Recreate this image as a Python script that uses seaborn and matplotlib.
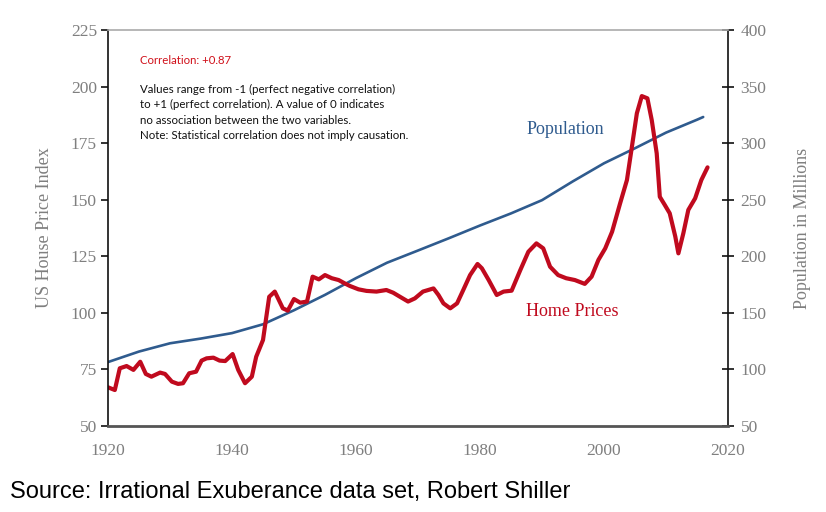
import matplotlib
matplotlib.use("Agg")
import matplotlib.pyplot as plt
import seaborn as sns
import pandas as pd

# ---- data ----
price_years = [1920.0, 1921.1, 1921.9, 1923.0, 1924.1, 1925.2, 1926.1, 1927.0, 1928.4, 1929.2,
               1930.3, 1931.3, 1932.1, 1933.1, 1934.2, 1935.1, 1935.9, 1937.0, 1938.0, 1938.9,
               1940.1, 1941.0, 1942.1, 1943.2, 1943.9, 1945.0, 1946.0, 1946.9, 1948.2, 1949.0,
               1950.0, 1951.0, 1952.1, 1953.0, 1954.0, 1955.0, 1956.1, 1957.2, 1958.2, 1959.0,
               1960.4, 1961.7, 1963.3, 1964.9, 1966.0, 1967.1, 1968.4, 1969.5, 1970.8, 1972.5,
               1973.3, 1974.1, 1975.2, 1976.3, 1977.3, 1978.4, 1979.6, 1980.3, 1981.4, 1982.7,
               1983.8, 1985.1, 1986.5, 1987.8, 1989.1, 1990.2, 1991.3, 1992.6, 1993.9, 1995.3,
               1996.9, 1998.0, 1999.1, 2000.2, 2001.3, 2002.6, 2003.7, 2004.5, 2005.3, 2006.1,
               2007.0, 2007.7, 2008.5, 2009.0, 2009.8, 2010.6, 2011.5, 2012.0, 2012.8, 2013.6,
               2014.7, 2015.7, 2016.7]
price_index = [67.1, 65.9, 75.5, 76.5, 74.8, 78.4, 73.0, 71.8, 73.6, 73.0,
               69.6, 68.6, 68.9, 73.3, 74.0, 78.9, 79.9, 80.2, 78.9, 78.7,
               81.8, 74.8, 68.9, 71.8, 80.6, 88.0, 107.1, 109.4, 102.0, 101.0,
               106.1, 104.5, 105.0, 116.0, 114.8, 116.7, 115.3, 114.5, 113.0, 111.9,
               110.4, 109.7, 109.4, 110.1, 108.9, 107.1, 105.0, 106.4, 109.4, 110.8,
               107.9, 104.2, 102.0, 104.2, 110.1, 116.7, 121.6, 119.7, 114.5, 107.9,
               109.4, 109.8, 118.9, 127.0, 130.7, 128.5, 120.4, 116.7, 115.3, 114.5,
               112.8, 116.0, 123.4, 128.5, 135.8, 148.4, 158.7, 173.4, 188.2, 195.8,
               194.8, 185.2, 170.5, 151.3, 147.7, 144.0, 133.7, 126.3, 135.2, 145.5,
               150.6, 158.7, 164.3]

pop_years = [1920, 1925, 1930, 1935, 1940, 1945, 1950, 1955, 1960, 1965, 1970,
             1975, 1980, 1985, 1990, 1995, 2000, 2005, 2010, 2015, 2016]
population = [106.5, 115.8, 123.1, 127.3, 132.1, 139.9, 152.3, 165.9, 180.7, 194.3, 205.1,
              216.0, 227.2, 237.9, 249.6, 266.3, 282.2, 295.5, 309.3, 320.7, 323.1]

x_ticks = [1920, 1940, 1960, 1980, 2000, 2020]
left_ticks = [50, 75, 100, 125, 150, 175, 200, 225]
right_ticks = [50, 100, 150, 200, 250, 300, 350, 400]

price_df = pd.DataFrame({"year": price_years, "index": price_index})
pop_df = pd.DataFrame({"year": pop_years, "pop": population})

RED = "#C00A1E"
BLUE = "#2F5B8E"
GRAY = "#7F7F7F"

sns.set_style("white")
plt.rcParams["font.family"] = ["Liberation Serif", "DejaVu Serif"]

fig = plt.figure(figsize=(8.26, 5.12), dpi=100)
ax = fig.add_axes([108 / 826, 1 - 426 / 512, 620 / 826, 396 / 512])
ax2 = ax.twinx()

sns.lineplot(data=pop_df, x="year", y="pop", ax=ax2, color=BLUE, linewidth=1.9)
sns.lineplot(data=price_df, x="year", y="index", ax=ax, color=RED, linewidth=3.0)

ax.set_zorder(ax2.get_zorder() + 1)
ax.patch.set_visible(False)

ax.set_xlim(1920, 2020)
ax.set_ylim(50, 225)
ax2.set_ylim(50, 400)
ax.set_xticks(x_ticks)
ax.set_yticks(left_ticks)
ax2.set_yticks(right_ticks)

for a in (ax, ax2):
    for s in a.spines.values():
        s.set_visible(False)

ax.spines["left"].set_visible(True)
ax.spines["left"].set_color("#111111")
ax.spines["left"].set_linewidth(1.2)
ax.spines["bottom"].set_visible(True)
ax.spines["bottom"].set_color("#555555")
ax.spines["bottom"].set_linewidth(2.0)
ax.spines["top"].set_visible(True)
ax.spines["top"].set_color("#AAAAAA")
ax.spines["top"].set_linewidth(1.2)
ax2.spines["right"].set_visible(True)
ax2.spines["right"].set_color("#111111")
ax2.spines["right"].set_linewidth(1.2)

ax.tick_params(axis="y", direction="out", length=5, width=1.2, color="#111111",
               labelsize=12.5, labelcolor=GRAY, pad=3)
ax.tick_params(axis="x", direction="in", length=5, width=1.2, color="#333333",
               labelsize=12.5, labelcolor=GRAY, pad=12)
ax2.tick_params(axis="y", direction="inout", length=8, width=1.2, color="#111111",
                labelsize=12.5, labelcolor=GRAY, pad=5)

ax.set_xlabel("")
ax.set_ylabel("US House Price Index", fontsize=13, color=GRAY, labelpad=13)
ax2.set_ylabel("Population in Millions", fontsize=13, color=GRAY, labelpad=20)

fig.text(565 / 826, 1 - 130 / 512, "Population", fontsize=13, color=BLUE,
         ha="center", va="center")
fig.text(572 / 826, 1 - 311 / 512, "Home Prices", fontsize=13, color=RED,
         ha="center", va="center")

sans = ["Lato", "DejaVu Sans"]
fig.text(140 / 826, 1 - 60 / 512, "Correlation: +0.87", fontsize=8.2, color="#D0101A",
         family=sans, ha="left", va="center")
note = ("Values range from -1 (perfect negative correlation)\n"
        "to +1 (perfect correlation). A value of 0 indicates\n"
        "no association between the two variables.\n"
        "Note: Statistical correlation does not imply causation.")
fig.text(140 / 826, 1 - 112.5 / 512, note, fontsize=8.3, color="#111111",
         family=sans, ha="left", va="center", linespacing=1.5)

fig.text(10 / 826, 1 - 492 / 512, "Source: Irrational Exuberance data set, Robert Shiller",
         fontsize=17, color="black", family=["Liberation Sans", "DejaVu Sans"],
         ha="left", va="center")

fig.savefig("out.png", dpi=100)
